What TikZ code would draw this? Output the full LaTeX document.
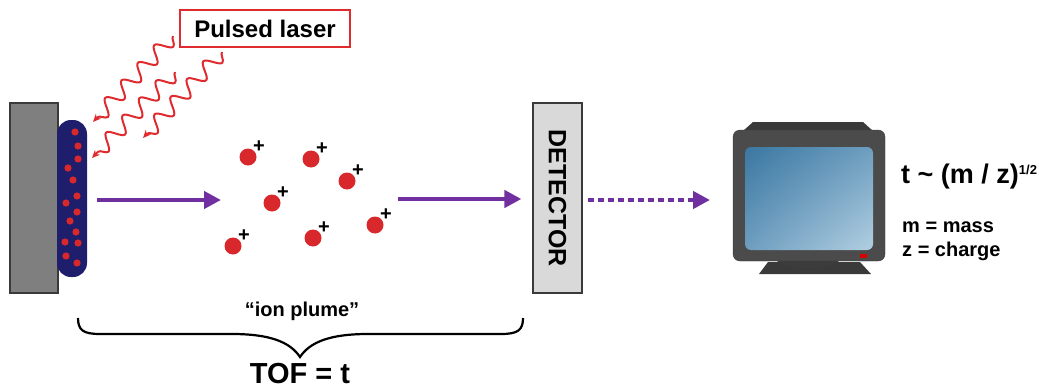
\documentclass[tikz,border=0pt]{standalone}
\usepackage{fontspec}
\setmainfont{Liberation Sans}
\usepackage{graphicx}
\usetikzlibrary{arrows.meta,decorations.pathmorphing,shadings}
\definecolor{beampurple}{HTML}{7030A0}
\definecolor{laserred}{HTML}{DF2A2E}
\definecolor{ionred}{HTML}{D8282C}
\definecolor{matrixnavy}{HTML}{1E1E6C}
\definecolor{plategray}{HTML}{7F7F7F}
\definecolor{detgray}{HTML}{D9D9D9}
\definecolor{casegray}{HTML}{4B4B4B}
\definecolor{backgray}{HTML}{3A3A3A}
\definecolor{screendark}{HTML}{3A77A1}
\definecolor{screenmid}{HTML}{6E9EC0}
\definecolor{screenlight}{HTML}{B2CFE1}

\begin{document}
\begin{tikzpicture}[x=1pt, y=-1pt,
  ion/.style={circle, fill=ionred, minimum size=17pt, inner sep=0pt},
  charge/.style={font=\bfseries\fontsize{20}{20}\selectfont, inner sep=0pt},
  beam/.style={-{Triangle[length=17pt,width=17pt]}, line width=4.5pt, draw=beampurple},
  signal/.style={beam, dash pattern=on 6pt off 4pt},
  laser/.style={-{Stealth[length=8pt,width=7pt]}, line width=2pt, draw=laserred,
                decorate, decoration={snake, segment length=24pt, amplitude=7.5pt, post length=5pt}},
  txt/.style={inner sep=0pt, font=\bfseries\fontsize{#1}{#1}\selectfont},
  txt/.default=20
]
  \useasboundingbox (0,0) rectangle (1039,388);

  % sample plate with the matrix spot
  \draw[fill=plategray, draw=backgray, line width=1.2pt] (10,103) rectangle (58,293);
  \fill[matrixnavy, rounded corners=14pt] (57,120) rectangle (87,277);
  \foreach \x/\y in {75/132, 78/146, 78/159, 68/168, 73/180, 77/196, 66/203,
                     77/212, 70/221, 76/232, 65/242, 78/243, 66/256, 77/263}
    \fill[ionred] (\x,\y) circle (3.6pt);

  % laser pulse
  \node[draw=laserred, line width=1.8pt, fill=white, minimum width=170pt, minimum height=37pt,
        txt=24] (laser) at (265,28.5) {Pulsed laser};
  \draw[laser] (173,36) -- (93,122);
  \draw[laser] (175,72) -- (92,158);
  \draw[laser] (222,52) -- (143,138);

  % ion plume
  \foreach \x/\y [count=\i] in {248/157, 311/159, 347/181, 272/203, 233/246, 313/238, 375/225} {
    \node[ion] (ion\i) at (\x,\y) {};
    \node[charge] at ([xshift=11pt, yshift=10pt]ion\i.center) {+};
  }

  \coordinate (launch) at (97,200);
  \coordinate (plume) at (221,200);
  \coordinate (drift) at (398,199);
  \draw[beam] (launch) -- (plume);

  % detector
  \node[draw=backgray, fill=detgray, line width=1.2pt, minimum width=49pt, minimum height=190pt,
        txt=25] (det) at (557.5,198) {\rotatebox{-90}{DETECTOR}};
  \draw[beam, shorten >=11pt] (drift) -- (det.west |- drift);

  % monitor
  \fill[backgray] (753,122) -- (863,122) -- (873,131) -- (743,131) -- cycle;
  \fill[backgray] (759,274) -- (871,274) -- (860,262) -- (768,262) -- cycle;
  \fill[casegray!80!black] (808,260) ellipse (31pt and 8pt);
  \draw[fill=casegray, draw=backgray, rounded corners=7pt] (733,130) rectangle (885,261);
  \shade[upper left=screendark, upper right=screenmid, lower left=screenmid, lower right=screenlight,
         rounded corners=6pt] (745,147) rectangle (873,250);
  \fill[red!85!black] (860,254) rectangle (867,257.5);
  \coordinate (monitor) at (733,200);
  \draw[signal, shorten <=5pt, shorten >=23pt] (det.east |- monitor) -- (monitor);

  % time of flight relation
  \node[txt=27, anchor=base west] (relation) at (901,183)
    {t \textasciitilde{} (m / z)\raisebox{9pt}{\fontsize{13}{13}\selectfont 1/2}};
  \node[txt=20, anchor=base west] (mdef) at (902,232) {m = mass};
  \node[txt=20, anchor=base west] (zdef) at (902,256) {z = charge};

  % flight time brace
  \draw[line width=2.2pt] (78,318) .. controls (78,330) and (83,334) .. (100,334) -- (232,334)
    .. controls (270,334) and (290,342) .. (300,357)
    .. controls (310,342) and (330,334) .. (368,334) -- (501,334)
    .. controls (518,334) and (523,330) .. (523,318);
  \node[txt=20, anchor=base] (plumelabel) at (302,316) {“ion plume”};
  \node[txt=29, anchor=base] (tof) at (300,383) {TOF = t};
\end{tikzpicture}
\end{document}
